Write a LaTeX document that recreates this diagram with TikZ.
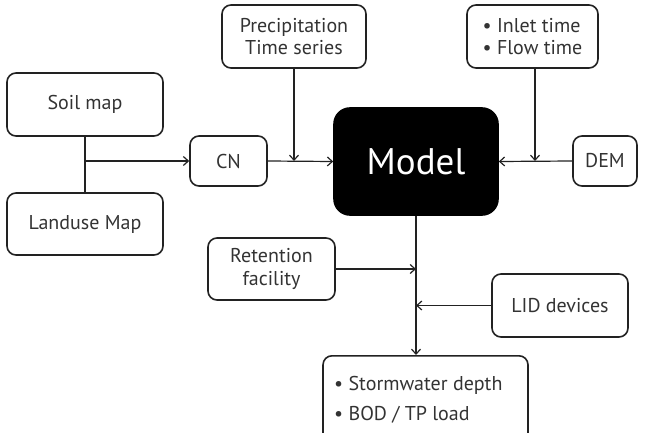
\documentclass[tikz,border=0pt]{standalone}
\usepackage{fontspec}
\setmainfont{PT Sans}
\usetikzlibrary{arrows.meta}
\definecolor{txt}{HTML}{333333}
\definecolor{edge}{HTML}{222222}
\begin{document}
\begin{tikzpicture}[x=1pt,y=-1pt,
  box/.style={draw=edge, text=txt, line width=1.6pt, rounded corners=9pt, inner sep=0pt, font=\fontsize{20}{22.5}\selectfont, align=center},
  arr/.style={draw=edge, line width=1.2pt, -{Straight Barb[length=5pt,width=9pt,line width=1.2pt]}},
  ln/.style={draw=edge, line width=1.2pt}]
\useasboundingbox (0,0) rectangle (647,433);
\node[box, minimum width=156pt, minimum height=63pt] (soil) at (85,104.5) {Soil map};
\node[box, minimum width=156pt, minimum height=62pt] (land) at (85,224) {Landuse Map};
\node[box, minimum width=77pt, minimum height=50pt] (cn) at (228.5,161) {CN};
\node[box, minimum width=144pt, minimum height=63pt] (prec) at (294,36.5) {Precipitation\\Time series};
\node[box, minimum width=131pt, minimum height=63pt, align=left] (inlet) at (532.5,36.5) {• Inlet time\\• Flow time};
\node[box, minimum width=64pt, minimum height=50pt] (dem) at (605,161) {DEM};
\node[draw, fill=black, line width=1.6pt, rounded corners=16pt, minimum width=164pt, minimum height=107pt, inner sep=0pt, text=white, font=\fontsize{37}{40}\selectfont] (model) at (416,161.5) {Model};
\node[box, minimum width=127pt, minimum height=62pt] (ret) at (271.5,269) {Retention\\facility};
\node[box, minimum width=136pt, minimum height=63pt] (lid) at (560,305.5) {LID devices};
\node[box, minimum width=205pt, minimum height=110pt, anchor=north] (out) at (425.5,355) {};
\node[text=txt, font=\fontsize{20}{30}\selectfont, align=left, anchor=north west, inner sep=0pt] (outtxt) at (334,376) {• Stormwater depth\\• BOD / TP load};
% connectors
\coordinate (j1) at (soil.south |- cn.west);
\draw[ln] (soil.south) -- (land.north);
\draw[arr] (j1) -- (cn.west);
\draw[arr] (cn.east) -- (model.west);
\coordinate (p1) at (prec.south |- cn.east);
\draw[arr] (prec.south) -- (p1);
\draw[arr] (dem.west) -- (model.east);
\coordinate (i1) at (535,161);
\draw[arr] (inlet.south -| i1) -- (i1);
\coordinate (m1) at (model.south);
\draw[arr] (model.south) -- (out.north -| m1);
\coordinate (r1) at (model.south |- ret.east);
\draw[arr] (ret.east) -- (r1);
\coordinate (l1) at (model.south |- lid.west);
\draw[arr] (lid.west) -- (l1);
\end{tikzpicture}
\end{document}
